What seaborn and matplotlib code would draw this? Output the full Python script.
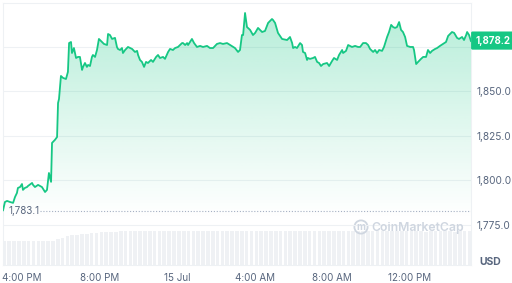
import numpy as np
import pandas as pd
import matplotlib
matplotlib.use('Agg')
import matplotlib.pyplot as plt
import matplotlib.transforms as mtrans
from matplotlib.patches import Circle
import seaborn as sns

# ---------------- data ----------------
# hours since 14 Jul 00:00
hours = [15.02, 15.12, 15.23, 15.38, 15.54, 15.64, 15.74, 15.79, 15.90, 16.00,
         16.05, 16.15, 16.26, 16.31, 16.52, 16.57, 16.67, 16.83, 17.03, 17.19,
         17.29, 17.39, 17.50, 17.55, 17.70, 17.81, 17.86, 17.91, 18.01, 18.12,
         18.27, 18.37, 18.43, 18.53, 18.58, 18.68, 18.79, 18.89, 18.99, 19.10,
         19.15, 19.25, 19.35, 19.41, 19.51, 19.61, 19.66, 19.77, 19.87, 19.97,
         20.13, 20.23, 20.39, 20.44, 20.54, 20.65, 20.80, 20.90, 20.95, 21.06,
         21.16, 21.21, 21.32, 21.47, 21.68, 21.83, 21.94, 21.99, 22.09, 22.19,
         22.30, 22.40, 22.50, 22.66, 22.76, 22.92, 23.02, 23.12, 23.28, 23.38,
         23.54, 23.64, 23.79, 23.90, 24.05, 24.26, 24.31, 24.42, 24.52, 24.57,
         24.77, 24.88, 25.03, 25.19, 25.34, 25.55, 25.70, 25.86, 26.06, 26.22,
         26.37, 26.58, 26.74, 26.99, 27.15, 27.25, 27.35, 27.41, 27.51, 27.61,
         27.77, 27.92, 28.03, 28.18, 28.39, 28.54, 28.70, 28.90, 28.95, 29.06,
         29.21, 29.42, 29.68, 29.83, 29.94, 29.99, 30.09, 30.19, 30.35, 30.45,
         30.50, 30.61, 30.71, 30.76, 30.86, 31.02, 31.12, 31.23, 31.33, 31.43,
         31.54, 31.74, 31.85, 32.00, 32.10, 32.26, 32.36, 32.52, 32.57, 32.72,
         32.83, 33.03, 33.19, 33.34, 33.45, 33.60, 33.75, 33.86, 33.96, 34.12,
         34.22, 34.32, 34.43, 34.58, 34.68, 34.84, 34.94, 35.05, 35.15, 35.25,
         35.35, 35.46, 35.56, 35.66, 35.77, 35.87, 36.03, 36.18, 36.23, 36.34,
         36.44, 36.59, 36.70, 36.85, 36.95, 37.06, 37.16, 37.32, 37.42, 37.57,
         37.73, 37.88, 37.99, 38.19, 38.30, 38.45, 38.55, 38.71, 38.81, 38.92,
         38.97, 39.07, 39.17]

prices = [1783.1, 1787.9, 1788.5, 1787.9, 1787.4, 1790.7, 1793.0, 1795.8, 1796.3, 1798.0,
          1794.7, 1795.8, 1796.3, 1796.9, 1798.6, 1797.5, 1796.3, 1797.5, 1796.3, 1793.5,
          1794.7, 1804.2, 1799.2, 1821.1, 1822.8, 1824.4, 1843.5, 1845.8, 1858.7, 1857.6,
          1857.0, 1861.0, 1877.2, 1877.8, 1871.6, 1874.4, 1868.8, 1869.4, 1869.4, 1862.1,
          1863.8, 1866.0, 1863.8, 1864.9, 1864.3, 1869.4, 1870.5, 1869.4, 1873.3, 1879.5,
          1877.8, 1876.7, 1876.1, 1882.3, 1881.7, 1879.5, 1880.1, 1875.0, 1873.9, 1873.3,
          1874.4, 1871.6, 1873.3, 1875.0, 1873.9, 1872.2, 1872.8, 1870.5, 1867.7, 1866.6,
          1863.8, 1866.6, 1866.0, 1867.7, 1866.6, 1869.4, 1870.5, 1868.8, 1869.4, 1868.3,
          1872.2, 1873.9, 1873.3, 1874.4, 1875.0, 1877.2, 1877.2, 1876.1, 1877.2, 1876.1,
          1879.5, 1877.2, 1875.0, 1875.6, 1875.0, 1875.6, 1874.4, 1874.4, 1876.7, 1877.2,
          1876.7, 1877.2, 1876.1, 1874.4, 1872.2, 1873.3, 1881.7, 1881.7, 1894.1, 1886.2,
          1884.6, 1881.7, 1882.9, 1885.7, 1883.4, 1884.0, 1888.5, 1890.7, 1890.2, 1888.5,
          1882.9, 1879.5, 1878.9, 1880.6, 1877.2, 1874.4, 1875.0, 1874.4, 1877.2, 1876.1,
          1872.2, 1871.6, 1867.7, 1868.8, 1868.3, 1868.8, 1869.4, 1866.6, 1866.0, 1864.3,
          1865.4, 1866.0, 1864.3, 1867.1, 1868.8, 1867.7, 1870.5, 1873.3, 1871.6, 1872.8,
          1876.1, 1875.0, 1875.6, 1875.0, 1875.0, 1877.2, 1877.2, 1876.1, 1873.9, 1872.2,
          1873.3, 1871.6, 1873.3, 1872.8, 1875.0, 1880.6, 1883.4, 1887.4, 1886.2, 1885.7,
          1886.2, 1889.0, 1884.6, 1883.4, 1880.6, 1875.6, 1875.0, 1875.0, 1873.3, 1865.4,
          1866.6, 1868.3, 1869.4, 1869.4, 1873.3, 1871.6, 1872.8, 1873.9, 1874.4, 1875.6,
          1876.7, 1877.8, 1881.2, 1883.4, 1882.9, 1880.1, 1879.5, 1880.6, 1878.9, 1881.7,
          1883.4, 1881.7, 1878.2]

# relative volume (15-min bars from 15:00)
volumes = [24.0, 24.2, 23.8, 24.1, 24.3, 23.9, 24.0, 24.2, 24.4, 24.1, 24.5,
           25.8, 27.6, 28.9, 29.8, 30.6, 31.2, 31.7, 32.2, 32.6, 33.0, 33.2, 33.5, 33.7, 33.9,
           34.0, 34.1, 34.2, 34.3, 34.2, 34.4, 34.3, 34.5, 34.4, 34.3,
           34.5, 34.6, 34.4, 34.5, 34.3, 34.4, 34.6, 34.5, 34.7, 34.6,
           34.5, 34.4, 34.3, 34.2, 34.4, 34.3, 34.1, 34.0, 34.2, 34.3,
           34.5, 34.6, 34.7, 34.5, 34.4, 34.3, 34.2, 34.1, 34.0, 33.9,
           34.0, 34.1, 34.2, 34.1, 34.0, 33.9, 34.0, 34.2, 34.3, 34.4,
           34.3, 34.2, 34.1, 34.0, 33.9, 33.8, 33.9, 34.0, 34.1, 34.0,
           33.9, 33.8, 33.7, 33.8, 33.9, 34.0, 33.9, 33.8, 33.7, 33.8,
           33.9, 33.8]

ytick_values = [1775, 1800, 1825, 1850, 1875]
# the 1,875.0 label sits under the current-price badge in the reference
ytick_labels = ['1,775.0', '1,800.0', '1,825.0', '1,850.0', '']
xtick_hours = [16, 20, 24, 28, 32, 36]
xtick_labels = ['4:00 PM', '8:00 PM', '15 Jul', '4:00 AM', '8:00 AM', '12:00 PM']

GREEN = '#16c784'
TXT = '#58667e'
GRID = '#eef1f4'
Y_MIN, Y_MAX = 1752.5, 1899.7

# ---------------- plot ----------------
sns.set_style('white')
plt.rcParams['font.family'] = ['Inter', 'DejaVu Sans']

day0 = pd.Timestamp('2023-07-14')
df = pd.DataFrame({'time': day0 + pd.to_timedelta(hours, unit='h'), 'price': prices})
vol_times = pd.date_range(day0 + pd.Timedelta(hours=15), periods=len(volumes), freq='15min')

fig = plt.figure(figsize=(5.12, 2.83), dpi=100, facecolor='white')
ax = fig.add_axes([3/512, 18/283, 468/512, 262/283])
ax2 = ax.twinx()
ax2.bar(vol_times, volumes, width=0.75 * 0.25 / 24, color='#eff1f4', linewidth=0, align='edge')
ax2.set_ylim(0, max(volumes) * 7.6)
ax2.axis('off')
ax.set_zorder(ax2.get_zorder() + 1)
ax.patch.set_visible(False)

sns.lineplot(data=df, x='time', y='price', ax=ax, color=GREEN, linewidth=1.3, zorder=6)

poly = ax.fill_between(df['time'], df['price'], Y_MIN, facecolor='none', edgecolor='none')
path = poly.get_paths()[0]
x0, x1 = ax.get_xlim()
ys = np.linspace(Y_MIN, Y_MAX, 300)
alpha = np.clip((ys - 1778) / (1897 - 1778), 0, 1) ** 1.1 * 0.32
grad = np.zeros((300, 1, 4))
grad[..., 0] = 22 / 255
grad[..., 1] = 199 / 255
grad[..., 2] = 132 / 255
grad[..., 3] = alpha[:, None]
img = ax.imshow(grad, extent=[x0, x1, Y_MIN, Y_MAX], aspect='auto', origin='lower', zorder=3,
                interpolation='bilinear')
img.set_clip_path(path, transform=ax.transData)

ax.set_xlim(df['time'].iloc[0], df['time'].iloc[-1])
ax2.set_xlim(df['time'].iloc[0], df['time'].iloc[-1])
ax.set_ylim(Y_MIN, Y_MAX)

ax.set_xlabel('')
ax.set_ylabel('')
ax.yaxis.tick_right()
ax.set_yticks(ytick_values)
ax.set_yticklabels(ytick_labels)
ax.set_xticks([day0 + pd.Timedelta(hours=h) for h in xtick_hours])
ax.set_xticklabels(xtick_labels)
ax.tick_params(axis='y', length=0, pad=3.8, labelsize=7.3, colors=TXT)
ax.tick_params(axis='x', length=0, pad=5.5, labelsize=7.1, colors=TXT)
ax.grid(axis='y', color=GRID, linewidth=0.8)
ax.grid(axis='x', visible=False)
for s in ax.spines.values():
    s.set_visible(True)
    s.set_color(GRID)
    s.set_linewidth(0.8)

blend = mtrans.blended_transform_factory(ax.transAxes, ax.transData)
ax.axhline(prices[0], xmin=0.08, xmax=1.0, color='#a6b0c3', linewidth=0.8,
           linestyle=(0, (1, 1.6)), zorder=4)
ax.text(0.011, prices[0], f'{prices[0]:,.1f}', transform=blend, ha='left', va='center',
        fontsize=7, color=TXT, zorder=7)

ax.annotate(f'{prices[-1]:,.1f}', xy=(1.0, prices[-1]), xycoords=blend,
            xytext=(3.0, 0.5), textcoords='offset points', ha='left', va='center',
            color='white', fontsize=7.0, fontweight='bold', annotation_clip=False,
            bbox=dict(boxstyle='round,pad=0.42,rounding_size=0.15', fc=GREEN, ec='none'),
            zorder=10)

fig.text(490/512, 1 - 262/283, 'USD', ha='center', va='center', fontsize=7.5,
         fontweight='bold', color=TXT)

# watermark
fig.text(418/512, 1 - 228/283, 'CoinMarketCap', ha='center', va='center', fontsize=8.8,
         color='#cfd6e0', fontweight='semibold')
fig.add_artist(Circle((3.61, (283 - 227) / 100), 0.066, transform=fig.dpi_scale_trans,
                      fill=False, ec='#cfd6e0', lw=1.3))
fig.text(361/512, 1 - 227.5/283, 'm', ha='center', va='center', fontsize=7,
         color='#cfd6e0', fontweight='bold')

fig.savefig('out.png', dpi=100, facecolor='white')
